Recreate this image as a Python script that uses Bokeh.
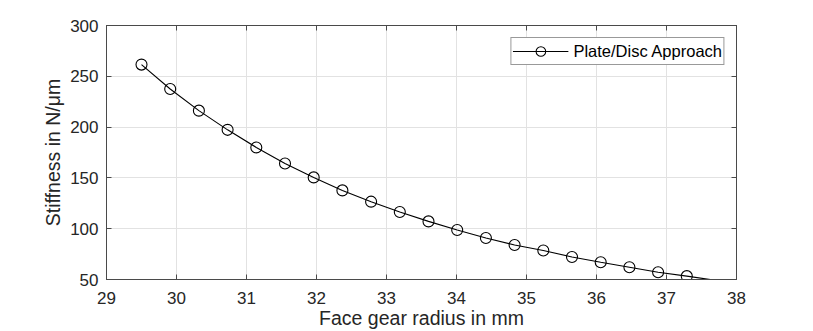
from bokeh.plotting import figure
from bokeh.models import LinearAxis, FixedTicker, Range1d, Legend, LegendItem, ColumnDataSource
from bokeh.embed import file_html
from bokeh.resources import INLINE

radius_mm = [29.50, 29.91, 30.32, 30.73, 31.14, 31.55, 31.96, 32.37, 32.78, 33.19,
             33.60, 34.01, 34.42, 34.83, 35.24, 35.65, 36.06, 36.47, 36.88, 37.29, 37.70]
stiffness = [261.5, 237.5, 216.2, 197.3, 180.0, 164.2, 150.5, 137.7, 126.6, 116.4,
             107.2, 98.7, 90.8, 84.0, 78.5, 72.2, 67.0, 62.1, 57.2, 53.3, 49.2]
x_ticks = [29, 30, 31, 32, 33, 34, 35, 36, 37, 38]
y_ticks = [50, 100, 150, 200, 250, 300]
series_name = "Plate/Disc Approach"

FONT = "Liberation Sans"
AX = "#262626"
FRAME = "#4a4a4a"

p = figure(width=813, height=331, output_backend="svg", toolbar_location=None,
           x_range=Range1d(29, 38), y_range=Range1d(50, 300),
           min_border_left=106, min_border_right=77, min_border_top=25, min_border_bottom=52)
p.background_fill_color = "white"
p.border_fill_color = "white"
p.outline_line_color = FRAME

src_line = ColumnDataSource(dict(x=radius_mm, y=stiffness))
# markers outside the axis limits are clipped (as in the source chart)
mx = [x for x, y in zip(radius_mm, stiffness) if y >= 50]
my = [y for y in stiffness if y >= 50]
src_mark = ColumnDataSource(dict(x=mx, y=my))

ln = p.line("x", "y", source=src_line, line_color="black", line_width=1.1)
mk = p.scatter("x", "y", source=src_mark, marker="circle", size=11,
               line_color="black", line_width=1.1, fill_color=None)

for ax in p.xaxis + p.yaxis:
    ax.axis_line_color = FRAME
    ax.major_tick_line_color = FRAME
    ax.major_tick_in = 5
    ax.major_tick_out = 0
    ax.minor_tick_in = 0
    ax.minor_tick_out = 0
    ax.major_label_text_font = FONT
    ax.major_label_text_font_size = "17px"
    ax.major_label_text_color = AX
    ax.axis_label_text_font = FONT
    ax.axis_label_text_font_size = "19.5px"
    ax.axis_label_text_font_style = "normal"
    ax.axis_label_text_color = AX

p.xaxis.ticker = FixedTicker(ticks=x_ticks)
p.yaxis.ticker = FixedTicker(ticks=y_ticks)
p.xaxis.axis_label = "Face gear radius in mm"
p.yaxis.axis_label = "Stiffness in N/μm"
p.xaxis.major_label_standoff = 12
p.xaxis.axis_label_standoff = 0
p.yaxis.major_label_standoff = 8
p.yaxis.axis_label_standoff = 3

top = LinearAxis(ticker=FixedTicker(ticks=x_ticks),
                 major_label_overrides={t: "" for t in x_ticks},
                 major_tick_in=5, major_tick_out=0, minor_tick_in=0, minor_tick_out=0,
                 axis_line_color=FRAME, major_tick_line_color=FRAME, major_label_standoff=0)
right = LinearAxis(ticker=FixedTicker(ticks=y_ticks),
                   major_label_overrides={t: "" for t in y_ticks},
                   major_tick_in=5, major_tick_out=0, minor_tick_in=0, minor_tick_out=0,
                   axis_line_color=FRAME, major_tick_line_color=FRAME, major_label_standoff=0)
p.add_layout(top, "above")
p.add_layout(right, "right")

p.xgrid.ticker = FixedTicker(ticks=x_ticks)
p.ygrid.ticker = FixedTicker(ticks=y_ticks)
p.grid.grid_line_color = "#e2e2e2"
p.grid.grid_line_width = 1

legend = Legend(items=[LegendItem(label=series_name, renderers=[ln, mk])],
                location="top_right")
legend.margin = 12
legend.padding = 1
legend.spacing = 0
legend.glyph_width = 56
legend.glyph_height = 24
legend.label_height = 24
legend.label_standoff = 5
legend.label_text_font = FONT
legend.label_text_font_size = "16.5px"
legend.label_text_color = "black"
legend.border_line_color = "#333333"
legend.border_line_width = 1
legend.background_fill_color = "white"
legend.background_fill_alpha = 1
p.add_layout(legend)

open("out.html", "w").write(file_html(p, INLINE))
